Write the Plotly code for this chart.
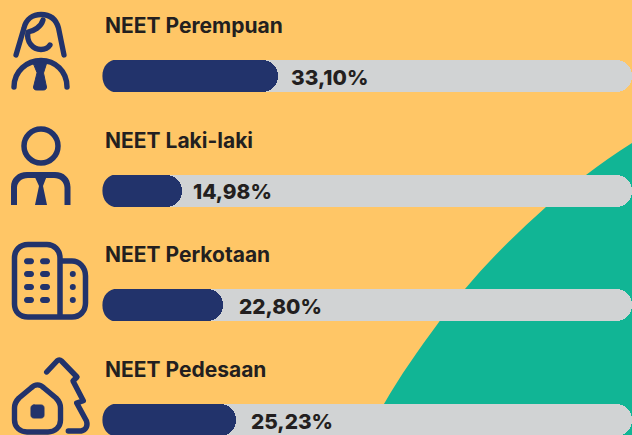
import re
import plotly.graph_objects as go

W, H = 632, 435

categories = ["NEET Perempuan", "NEET Laki-laki", "NEET Perkotaan", "NEET Pedesaan"]
values = [33.10, 14.98, 22.80, 25.23]
track_total = [100, 100, 100, 100]

BG = "#FFC666"
GREEN = "#11B595"
TRACK = "#D1D3D4"
NAVY = "#22336B"
INK = "#231F20"
FONT = "Inter"

LEFT_PX, ROW0_PX, ROW_STEP, BAR_PX = 102.4, 76.0, 114.67, 32.0
x_scale = (W - LEFT_PX) / 100.0
value_label_gap = [11.5, 9.5, 13.5, 13]


def P(d):
    """Convert a path in pixel coordinates to paper coordinates."""
    n = [0]
    def conv(m):
        v = float(m.group(0))
        i = n[0]
        n[0] += 1
        return f"{v / W:.5f}" if i % 2 == 0 else f"{1 - v / H:.5f}"
    return re.sub(r"-?\d+\.?\d*", conv, d)


def stroke(d, width=5.0):
    return dict(type="path", xref="paper", yref="paper", path=P(d), layer="above",
                line=dict(color=NAVY, width=width), fillcolor="rgba(0,0,0,0)")


def fill(d, color=NAVY, line_width=1):
    return dict(type="path", xref="paper", yref="paper", path=P(d), layer="above",
                line=dict(color=color, width=line_width), fillcolor=color)


shapes = [dict(type="path", xref="paper", yref="paper", layer="below",
               line=dict(width=0), fillcolor=GREEN,
               path=P("M 632 143 C 615 154 600 164 586 175 C 572 186 559 195 546 207 "
                      "C 516 234 490 259 465 289 C 456 300 447 311 439 322 "
                      "C 419 349 400 376 384 404 C 378 414 372 425 367 435 L 632 435 Z"))]

# rounded left ends of the bars: background-coloured corner masks
for i in range(len(categories)):
    cy = ROW0_PX + i * ROW_STEP
    t, b = cy - BAR_PX / 2 - 0.5, cy + BAR_PX / 2 + 0.5
    x0, xr = LEFT_PX - 1.4, LEFT_PX + 15
    shapes.append(fill(f"M {x0} {t} L {xr} {t} C {LEFT_PX + 6} {t} {LEFT_PX} {t + 7} {LEFT_PX} {cy} "
                       f"C {LEFT_PX} {b - 7} {LEFT_PX + 6} {b} {xr} {b} L {x0} {b} Z", BG, 0))

# woman icon
shapes += [
    stroke("M 16 55 L 24 28 C 26 19 33 14.5 41 14.5 C 50 14.5 56 19 58.5 28 L 64 55", 5.3),
    stroke("M 43 20 C 41 27 34 31 28 32 C 26 42 33 49.5 41 49.5 C 45 49.5 48 48 50 45", 5.3),
    stroke("M 14 87 C 14 71 27 60.5 41 60.5 C 55 60.5 67 71 67 87", 5.4),
    fill("M 33 62 L 47 62 L 43.5 73 L 46.5 87 C 46.5 89.5 45 90 43 90 L 37 90 "
         "C 35 90 33.5 89.5 33.5 87 L 37 73 Z"),
]
# man icon
shapes += [
    dict(type="circle", xref="paper", yref="paper", layer="above",
         x0=24 / W, x1=58 / W, y0=1 - 163 / H, y1=1 - 129 / H,
         line=dict(color=NAVY, width=5.5), fillcolor="rgba(0,0,0,0)"),
    fill("M 11 205 L 11 187 C 11 178 18 172 27 172 L 55 172 C 64 172 70.5 178 70.5 187 L 70.5 205 "
         "L 64.5 205 L 64.5 188 C 64.5 182 60 178 54 178 L 28 178 C 22 178 17 182 17 188 L 17 205 Z",
         NAVY, 0),
    fill("M 33 173 L 48 173 L 43 186 L 47 205 L 35 205 L 39 186 Z", NAVY, 0),
]
# building icon
shapes.append(stroke("M 60 317 L 60 258 C 60 250 54 244.5 47 244.5 L 28 244.5 C 20 244.5 14.5 250 14.5 258 "
                     "L 14.5 304 C 14.5 312 20 317 28 317 L 72 317 C 80 317 85.5 311 85.5 303 "
                     "L 85.5 276 C 85.5 267 79 261 72 261 L 60 261", 5.5))
for wy in (261.3, 274, 287, 300):
    for wx in (27, 43):
        shapes.append(fill(f"M {wx} {wy - 3} L {wx + 4} {wy - 3} C {wx + 8} {wy - 3} {wx + 8} {wy + 3} {wx + 4} {wy + 3} "
                           f"L {wx} {wy + 3} C {wx - 4} {wy + 3} {wx - 4} {wy - 3} {wx} {wy - 3} Z", NAVY, 0))
for wy in (274, 287, 300):
    shapes.append(dict(type="circle", xref="paper", yref="paper", layer="above",
                       x0=69.8 / W, x1=75.8 / W, y0=1 - (wy + 3) / H, y1=1 - (wy - 3) / H,
                       line=dict(width=0), fillcolor=NAVY))
# house and tree icon
shapes += [
    stroke("M 31 388 C 35 384 40 384 44 388 L 56 398 C 59 401 60.5 404 60.5 408 L 60.5 420 "
           "C 60.5 427 55 432 48 432 L 27 432 C 20 432 14.5 427 14.5 420 L 14.5 408 "
           "C 14.5 404 16 401 19 398 Z", 5.4),
    fill("M 34 405 L 41 405 C 43 405 44 406 44 408 L 44 415 C 44 417 43 418 41 418 "
         "L 34 418 C 32 418 31 417 31 415 L 31 408 C 31 406 32 405 34 405 Z"),
    stroke("M 46.7 372 L 57 361 C 58.5 359.5 60 359.5 61.5 361 L 77 377 L 73 381 L 83.3 400.7 L 76.7 403 "
           "L 86.5 421 C 88 426 86 430 81 431 L 68.3 431", 5.4),
]

fig = go.Figure()
fig.add_bar(y=categories, x=track_total, orientation="h", width=BAR_PX / ROW_STEP,
            marker=dict(color=TRACK, cornerradius=16, line=dict(width=0)), hoverinfo="skip")
fig.add_bar(y=categories, x=values, orientation="h", width=BAR_PX / ROW_STEP,
            xaxis="x2", yaxis="y2",
            marker=dict(color=NAVY, cornerradius=16, line=dict(width=0)))

annotations = []
for i, (c, v) in enumerate(zip(categories, values)):
    annotations.append(dict(x=0, y=i, xref="x", yref="y", xanchor="left", yanchor="middle",
                            text=c, showarrow=False, xshift=1, yshift=50.5,
                            font=dict(family=FONT, size=21, color=INK, weight=700)))
    annotations.append(dict(x=v, y=i, xref="x", yref="y", xanchor="left", yanchor="middle",
                            text=f"{v:.2f}".replace(".", ",") + "%", showarrow=False,
                            xshift=value_label_gap[i], yshift=-1,
                            font=dict(family=FONT, size=20.8, color=INK, weight=800)))

x_range = [-LEFT_PX / x_scale, (W - LEFT_PX) / x_scale]
y_range = [(H - ROW0_PX) / ROW_STEP, -ROW0_PX / ROW_STEP]
y_axis = dict(type="category", categoryorder="array", categoryarray=categories,
              range=y_range, visible=False, fixedrange=True)

fig.update_layout(
    width=W, height=H, autosize=False,
    margin=dict(l=0, r=0, t=0, b=0, pad=0),
    paper_bgcolor=BG, plot_bgcolor="rgba(0,0,0,0)",
    showlegend=False, bargap=0,
    shapes=shapes, annotations=annotations,
    xaxis=dict(range=x_range, visible=False, fixedrange=True),
    yaxis=y_axis,
    xaxis2=dict(range=x_range, visible=False, fixedrange=True, overlaying="x", anchor="y2"),
    yaxis2=dict(**y_axis, overlaying="y", anchor="x2"),
)
post = ("document.body.style.margin='0';document.body.style.overflow='hidden';"
        "document.head.insertAdjacentHTML('beforeend',"
        "'<style>.shapelayer path{stroke-linecap:round;stroke-linejoin:round}</style>');")
fig.write_html("out.html", config={"displayModeBar": False}, post_script=post)
